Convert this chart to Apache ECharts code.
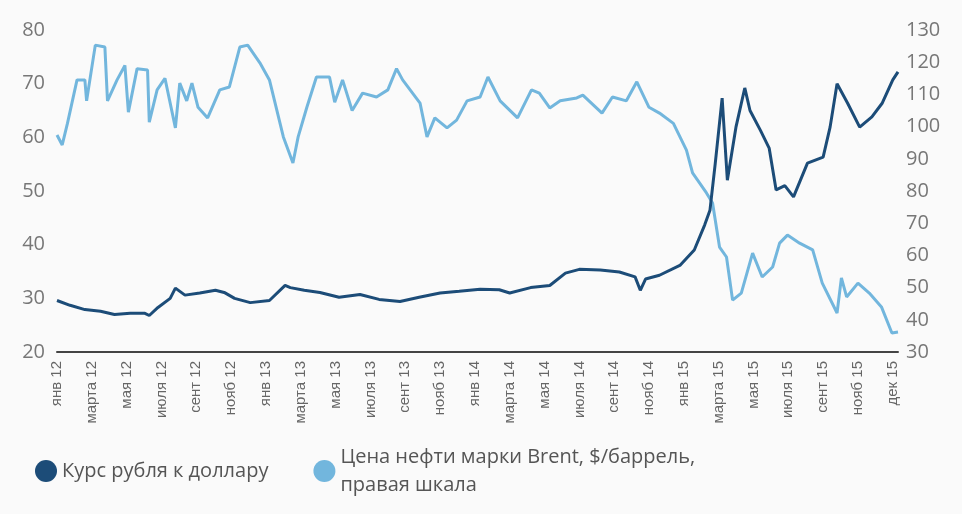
<!DOCTYPE html>
<html><head><meta charset="utf-8">
<script src="https://cdn.jsdelivr.net/npm/echarts@6/dist/echarts.min.js"></script>
<style>html,body{margin:0;padding:0;background:#fafafa}#c{width:962px;height:514px}</style>
</head><body><div id="c"></div>
<script>
var xLabels = ['янв 12','марта 12','мая 12','июля 12','сент 12','нояб 12','янв 13','марта 13','мая 13','июля 13','сент 13','нояб 13','янв 14','марта 14','мая 14','июля 14','сент 14','нояб 14','янв 15','марта 15','мая 15','июля 15','сент 15','нояб 15','дек 15'];
var rubleName = 'Курс рубля к доллару';
var oilName = 'Цена нефти марки Brent, $/баррель,\nправая шкала';
// [month index from Jan 2012, value]
var rubleData = [[0,29.6],[0.75,28.7],[1.6,27.9],[2.5,27.6],[3.3,27.0],[4.2,27.2],[5.05,27.2],[5.3,26.8],[5.8,28.3],[6.5,30.0],[6.8,31.9],[7.35,30.6],[8.2,31.0],[9.1,31.5],[9.6,31.1],[10.2,30.0],[11.1,29.2],[12.2,29.6],[13.1,32.4],[13.4,32.0],[14.2,31.5],[15.1,31.1],[16.2,30.2],[17.4,30.7],[18.5,29.8],[19.7,29.4],[20.8,30.2],[22,31.0],[23.1,31.3],[24.3,31.7],[25.4,31.6],[26,31.0],[27.2,32.0],[28.3,32.4],[29.2,34.7],[30,35.4],[31.2,35.3],[32.3,34.9],[33.2,34.0],[33.5,31.5],[33.8,33.6],[34.6,34.3],[35.8,36.2],[36.6,39.0],[37.2,43.7],[37.5,46.4],[37.8,55],[38.2,67.3],[38.5,52],[39.0,62],[39.5,69.2],[39.8,65],[40.4,61.3],[40.9,58],[41.3,50.2],[41.8,51],[42.3,48.9],[43.1,55.2],[44,56.3],[44.4,61.9],[44.8,70],[45.4,66.4],[46.1,61.9],[46.8,63.8],[47.4,66.4],[48,70.7],[48.3,72.2]];
var oilData = [[0,97.4],[0.3,94.3],[0.6,101],[1.15,114.5],[1.6,114.5],[1.7,108],[2.2,125.3],[2.75,124.7],[2.9,108],[3.45,114.5],[3.9,119],[4.1,104.5],[4.6,118],[5.2,117.6],[5.3,101.4],[5.75,111.4],[6.2,115],[6.8,99.6],[7.05,113.5],[7.45,108],[7.75,113.5],[8.1,106],[8.65,102.7],[9.35,111.4],[9.9,112.3],[10.5,124.7],[10.95,125.3],[11.65,119.8],[12.2,114.5],[13,96.8],[13.55,88.7],[13.85,96.8],[14.35,106],[14.9,115.4],[15.65,115.4],[15.95,107.6],[16.4,114.5],[16.95,105],[17.55,110.4],[18.35,109.2],[19,111.4],[19.5,118],[19.85,114.5],[20.85,107.3],[21.25,96.8],[21.7,102.7],[22.4,99.6],[22.95,102],[23.55,108],[24.3,109.2],[24.75,115.4],[25.45,108],[26.45,102.7],[27.25,111.4],[27.7,110.4],[28.3,105.8],[28.9,108],[29.85,108.9],[30.2,109.8],[31.3,104.2],[31.9,109.2],[32.7,108],[33.3,113.9],[34,106],[34.6,104.2],[35.4,101],[36.15,92.7],[36.5,85.6],[37.3,79.4],[37.65,76.3],[38.05,62.6],[38.45,59.5],[38.8,46.1],[39.3,48.3],[39.95,60.7],[40.5,53.3],[41.1,56.4],[41.5,63.8],[41.95,66.3],[42.65,63.8],[43.4,61.7],[43.95,51.4],[44.8,42.1],[45.05,53],[45.35,47.1],[46,51.4],[46.65,48.3],[47.35,44],[47.95,35.9],[48.3,36.2]];
var leftTicks = {min:20,max:80,interval:10};
var rightTicks = {min:30,max:130,interval:10};

var chart = echarts.init(document.getElementById('c'));
chart.setOption({
  backgroundColor:'#fafafa',
  animation:false,
  grid:{left:57,right:64,top:30,bottom:162},
  legend:{left:30,top:438,itemWidth:22,itemHeight:22,itemGap:45,icon:'circle',
    textStyle:{fontSize:20,color:'#555',fontFamily:'Open Sans',lineHeight:28,verticalAlign:'top'},
    data:[rubleName,oilName]},
  xAxis:{type:'value',min:0,max:48.3,interval:2,
    axisLine:{show:true,lineStyle:{color:'#444',width:2}},axisTick:{show:false},splitLine:{show:false},
    axisLabel:{rotate:90,fontSize:15,color:'#666',fontFamily:'Liberation Sans',margin:9,showMaxLabel:false,
      formatter:function(v){var i=Math.round(v/2);return (Math.abs(v-2*i)<1e-6&&xLabels[i])?xLabels[i]:'';}}},
  yAxis:[
    {type:'value',min:leftTicks.min,max:leftTicks.max,interval:leftTicks.interval,position:'left',
     axisLine:{show:false},axisTick:{show:false},splitLine:{show:false},
     axisLabel:{fontSize:20,color:'#777',fontFamily:'Open Sans',margin:12}},
    {type:'value',min:rightTicks.min,max:rightTicks.max,interval:rightTicks.interval,position:'right',
     axisLine:{show:false},axisTick:{show:false},splitLine:{show:false},
     axisLabel:{fontSize:20,color:'#777',fontFamily:'Open Sans',margin:8}}
  ],
  series:[
    {name:oilName,type:'line',yAxisIndex:1,data:oilData,symbol:'none',lineStyle:{color:'#72b6dd',width:3},itemStyle:{color:'#72b6dd'}},
    {name:rubleName,type:'line',yAxisIndex:0,data:rubleData,symbol:'none',lineStyle:{color:'#1c4c78',width:3},itemStyle:{color:'#1c4c78'}}
  ]
});
</script></body></html>
